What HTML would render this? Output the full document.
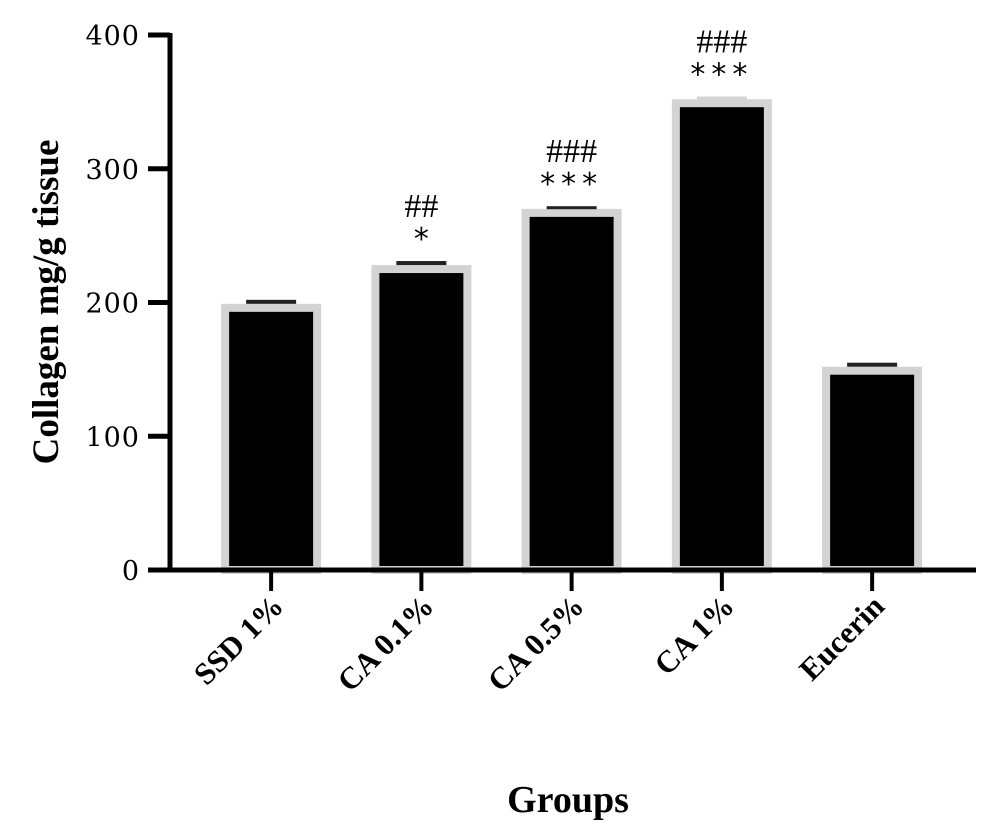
<!DOCTYPE html>
<html><head><meta charset="utf-8"><style>
html,body{margin:0;padding:0;background:#fff;}
svg{display:block;}
</style></head><body>
<svg id="chart" width="1000" height="839" viewBox="0 0 1000 839" xmlns="http://www.w3.org/2000/svg">
<g id="bars"></g>
<g id="axes"></g>
<text transform="translate(58,302) rotate(-90)" text-anchor="middle" font-family="Liberation Serif, serif" font-weight="bold" font-size="37">Collagen mg/g tissue</text>
<text x="568" y="812" text-anchor="middle" font-family="Liberation Serif, serif" font-weight="bold" font-size="38">Groups</text>
</svg>
<script>
const categories = ["SSD 1%", "CA 0.1%", "CA 0.5%", "CA 1%", "Eucerin"];
const values = [199, 228, 270, 352, 152];
const errors = [3, 3, 2, 2, 3];
const hashMarks = ["", "##", "###", "###", ""];
const starMarks = ["", "*", "***", "***", ""];
const yTicks = [0, 100, 200, 300, 400];

const NS = "http://www.w3.org/2000/svg";
const y0 = 570, yTop = 35, yMax = 400;
function yScale(v){ return y0 - v * (y0 - yTop) / yMax; }
const x0 = 196, step = 150.25;
function xScale(i){ return x0 + step * (i + 0.5); }
function mk(tag, attrs, parent){
  const e = document.createElementNS(NS, tag);
  for (const k in attrs) e.setAttribute(k, attrs[k]);
  parent.appendChild(e);
  return e;
}
const bars = document.getElementById('bars');
const axes = document.getElementById('axes');
const bw = 100;
categories.forEach((c, i) => {
  const cx = xScale(i);
  const top = yScale(values[i]);
  const g = mk('rect', {x: cx - bw/2 + 4, y: top + 4, width: bw - 8, height: y0 - top - 4, fill: '#000', stroke: '#d3d3d3', 'stroke-width': 8}, bars);
  
  
  const eTop = yScale(values[i] + errors[i]);
  const eb = mk('rect', {x: cx - 25, y: eTop, width: 50, height: Math.max(top - eTop, 3), fill: i === 3 ? '#d3d3d3' : '#222'}, bars);
  
  
  if (starMarks[i]) {
    const st = mk('text', {x: cx, y: eTop - 12, 'text-anchor': 'middle', 'font-family': 'DejaVu Sans, sans-serif', 'font-size': 30, 'letter-spacing': i === 1 ? 0 : 6}, bars);
    st.textContent = starMarks[i];
    
    
    const hs = mk('text', {x: cx, y: eTop - 44, 'text-anchor': 'middle', 'font-family': 'Liberation Serif, serif', 'font-size': 34}, bars);
    hs.textContent = hashMarks[i];
    
    
  }
  const tk = mk('line', {x1: cx, y1: y0, x2: cx, y2: 591, stroke: '#000', 'stroke-width': 4}, axes);
  
  
  const lx = cx + 14, ly = 608;
  const lb = mk('text', {x: lx, y: ly, transform: `rotate(-45 ${lx} ${ly})`, 'text-anchor': 'end', 'font-family': 'Liberation Serif, serif', 'font-weight': 'bold', 'font-size': 31}, axes);
  lb.textContent = c;
  
  
});
const ya = mk('line', {x1: 170, y1: 33, x2: 170, y2: 572, stroke: '#000', 'stroke-width': 5}, axes);


const xa = mk('line', {x1: 168, y1: 570, x2: 976, y2: 570, stroke: '#000', 'stroke-width': 5}, axes);


yTicks.forEach(t => {
  const y = yScale(t);
  const l = mk('line', {x1: 148, y1: y, x2: 170, y2: y, stroke: '#000', 'stroke-width': 5}, axes);
  
  
  const tx = mk('text', {x: 140, y: y + 10, 'text-anchor': 'end', 'font-family': 'DejaVu Serif, serif', 'font-size': 27, 'letter-spacing': 1}, axes);
  tx.textContent = t;
  
  
});
</script>
</body></html>
